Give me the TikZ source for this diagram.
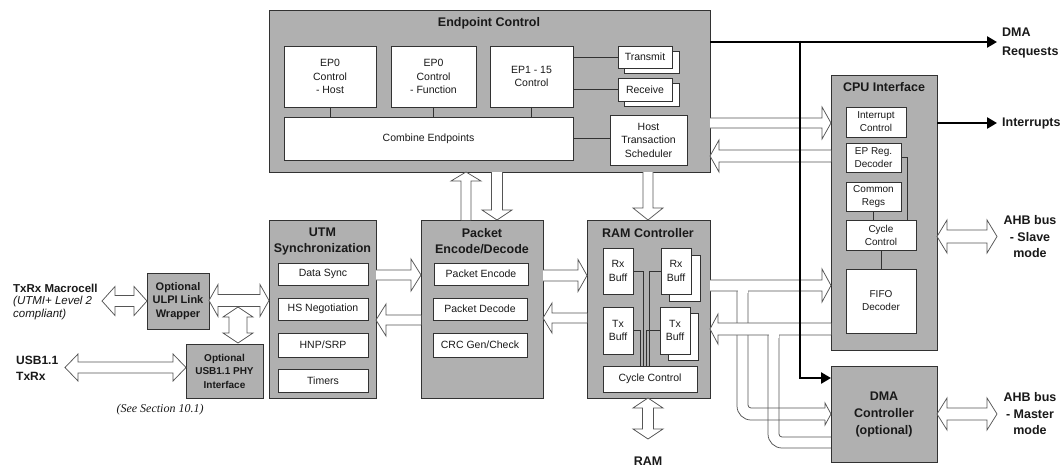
\documentclass[tikz,border=0pt]{standalone}
\usepackage{fontspec}
\setmainfont{Liberation Sans}
\newfontfamily\garafont{Liberation Serif}
\usetikzlibrary{arrows.meta}
\definecolor{boxgray}{RGB}{176,176,176}
\definecolor{edge}{RGB}{50,50,50}
\definecolor{arrowedge}{RGB}{85,85,85}
\definecolor{txt}{RGB}{25,25,25}
% box node from corner (x1,y1) to (x2,y2)
\newcommand{\bx}[7]{\pgfmathsetmacro\bxw{(#5)-(#3)}\pgfmathsetmacro\bxh{(#6)-(#4)}\pgfmathsetmacro\bxx{((#3)+(#5))/2}\pgfmathsetmacro\bxy{((#4)+(#6))/2}\node[#1,minimum width=\bxw pt,minimum height=\bxh pt] (#2) at (\bxx,\bxy) {#7};}
% hollow single arrows: tail, tip, position, shaft half, head half, head length
\newcommand{\sR}[6]{\filldraw[harrow] (#1,#3-#4) -- (#2-#6,#3-#4) -- (#2-#6,#3-#5) -- (#2,#3) -- (#2-#6,#3+#5) -- (#2-#6,#3+#4) -- (#1,#3+#4);}
\newcommand{\sL}[6]{\filldraw[harrow] (#1,#3-#4) -- (#2+#6,#3-#4) -- (#2+#6,#3-#5) -- (#2,#3) -- (#2+#6,#3+#5) -- (#2+#6,#3+#4) -- (#1,#3+#4);}
\newcommand{\sD}[6]{\filldraw[harrow] (#1-#4,#2) -- (#1-#4,#3-#6) -- (#1-#5,#3-#6) -- (#1,#3) -- (#1+#5,#3-#6) -- (#1+#4,#3-#6) -- (#1+#4,#2);}
\newcommand{\sU}[6]{\filldraw[harrow] (#1-#4,#2) -- (#1-#4,#3+#6) -- (#1-#5,#3+#6) -- (#1,#3) -- (#1+#5,#3+#6) -- (#1+#4,#3+#6) -- (#1+#4,#2);}
% hollow double arrows: horizontal (left tip, right tip, y) / vertical (x, top tip, bottom tip)
\newcommand{\dH}[6]{\filldraw[harrow] (#1,#3) -- (#1+#6,#3-#5) -- (#1+#6,#3-#4) -- (#2-#6,#3-#4) -- (#2-#6,#3-#5) -- (#2,#3) -- (#2-#6,#3+#5) -- (#2-#6,#3+#4) -- (#1+#6,#3+#4) -- (#1+#6,#3+#5) -- cycle;}
\newcommand{\dV}[6]{\filldraw[harrow] (#1,#2) -- (#1+#5,#2+#6) -- (#1+#4,#2+#6) -- (#1+#4,#3-#6) -- (#1+#5,#3-#6) -- (#1,#3) -- (#1-#5,#3-#6) -- (#1-#4,#3-#6) -- (#1-#4,#2+#6) -- (#1-#5,#2+#6) -- cycle;}
\begin{document}
\begin{tikzpicture}[x=1pt,y=-1pt,
  every node/.style={text=txt},
  cont/.style={draw=edge,fill=boxgray,line width=0.8pt,inner sep=0pt,outer sep=0pt,align=center},
  sub/.style={draw=edge,fill=white,line width=0.8pt,inner sep=0pt,outer sep=0pt,align=center,font=\fontsize{10.5}{13.5}\selectfont},
  subs/.style={sub,font=\fontsize{10}{13}\selectfont},
  ttl/.style={font=\bfseries\fontsize{12.5}{16}\selectfont,align=center,inner sep=0pt},
  lbl/.style={font=\bfseries\fontsize{12.5}{16.5}\selectfont,align=center,inner sep=0pt},
  harrow/.style={draw=arrowedge,fill=white,line width=0.75pt,line join=miter,miter limit=20},
  hline/.style={draw=arrowedge,line width=0.75pt},
  wire/.style={draw=edge,line width=0.7pt},
  blk/.style={line width=2.8pt,-{Triangle[length=10pt,width=11pt]}},
]
\fill[white] (0,0) rectangle (1064,468);
\useasboundingbox (0,0) rectangle (1064,468);

% ---------------- Endpoint Control ----------------
\bx{cont}{epc}{269}{10}{710}{172}{}
\node[ttl] (epct) at (489,23) {Endpoint Control};
\bx{sub}{ep0h}{284}{46}{376}{107}{EP0\\Control\\- Host}
\bx{sub}{ep0f}{391}{46}{476}{107}{EP0\\Control\\- Function}
\bx{sub}{ep1}{490}{46}{573}{107}{EP1 - 15\\Control}
\bx{sub}{comb}{284}{117}{573}{160}{Combine Endpoints}
\bx{sub}{txb}{624}{51}{679}{73}{}
\bx{sub}{tx}{618}{46}{672}{68}{Transmit}
\bx{sub}{rxb}{624}{83}{679}{106}{}
\bx{sub}{rx}{618}{78}{672}{101}{Receive}
\bx{sub}{hts}{610}{115}{687}{165}{Host\\Transaction\\Scheduler}
\draw[wire] (ep0h.south) -- (ep0h.south |- comb.north);
\draw[wire] (ep0f.south) -- (ep0f.south |- comb.north);
\draw[wire] (ep1.south) -- (ep1.south |- comb.north);
\draw[wire] (tx.west) -- (tx.west -| ep1.east);
\draw[wire] (rx.west) -- (rx.west -| ep1.east);
\draw[wire] (comb.east) -- (comb.east -| hts.west);

% ---------------- CPU Interface ----------------
\bx{cont}{cpu}{831}{75}{937}{350}{}
\node[ttl] (cput) at (884,87) {CPU Interface};
\bx{subs}{intc}{846}{107}{906}{137}{Interrupt\\Control}
\bx{subs}{epreg}{846}{143}{901}{172}{EP Reg.\\Decoder}
\bx{subs}{creg}{846}{182}{901}{211}{Common\\Regs}
\bx{subs}{ccyc}{846}{220}{916}{250}{Cycle\\Control}
\bx{subs}{fifo}{846}{269}{916}{333}{FIFO\\Decoder}
\draw[wire] (epreg.east) -- ++(6,0) coordinate (k1) -- (k1 |- ccyc.north);
\draw[wire] (creg.south) -- (creg.south |- ccyc.north);
\draw[wire] (ccyc.south) -- (ccyc.south |- fifo.north);

% ---------------- DMA Controller ----------------
\bx{cont,font=\bfseries\fontsize{12.5}{17}\selectfont}{dma}{831}{366}{937}{462}{DMA\\Controller\\(optional)}

% ---------------- UTM Synchronization ----------------
\bx{cont}{utm}{269}{220}{376}{398}{}
\node[ttl] (utmt) at (322.5,241) {UTM\\Synchronization};
\bx{sub}{dsync}{278}{263}{368}{285}{Data Sync}
\bx{sub}{hsn}{278}{298}{368}{320}{HS Negotiation}
\bx{sub}{hnp}{278}{333}{368}{357}{HNP/SRP}
\bx{sub}{tim}{278}{369}{368}{392}{Timers}

% ---------------- Packet Encode/Decode ----------------
\bx{cont}{pkt}{421}{220}{543}{398}{}
\node[ttl] (pktt) at (482,241) {Packet\\Encode/Decode};
\bx{sub}{penc}{434}{263}{528}{285}{Packet Encode}
\bx{sub}{pdec}{433}{298}{527}{320}{Packet Decode}
\bx{sub}{crc}{433}{333}{527}{357}{CRC Gen/Check}

% ---------------- RAM Controller ----------------
\bx{cont}{ram}{587}{220}{710}{398}{}
\node[ttl] (ramt) at (648,233) {RAM Controller};
\bx{sub}{rxl}{603}{248}{633}{294}{Rx\\Buff}
\bx{sub}{rxrb}{669}{255}{700}{301}{}
\bx{sub}{rxr}{661}{248}{691}{294}{Rx\\Buff}
\bx{sub}{txl}{603}{307}{633}{354}{Tx\\Buff}
\bx{sub}{txrb}{668}{313}{698}{360}{}
\bx{sub}{txr}{660}{307}{690}{354}{Tx\\Buff}
\bx{sub}{rcyc}{603}{366}{697}{392}{Cycle Control}
\draw[wire] (rxl.east) -- ++(10,0) coordinate (r1) -- (r1 |- rcyc.north);
\draw[wire] (txl.east) -- ++(7,0) coordinate (r2) -- (r2 |- rcyc.north);
\draw[wire] (rxr.west) -- ++(-12,0) coordinate (r3) -- (r3 |- rcyc.north);
\draw[wire] (txr.west) -- ++(-14,0) coordinate (r4) -- (r4 |- rcyc.north);

% ---------------- left side ----------------
\bx{cont,font=\bfseries\fontsize{11}{13.5}\selectfont}{ulpi}{147}{273}{209}{329}{Optional\\ULPI Link\\Wrapper}
\bx{cont,font=\bfseries\fontsize{10}{13.5}\selectfont}{phy}{186}{344}{263}{398}{Optional\\USB1.1 PHY\\Interface}
\node[anchor=west,inner sep=0pt,font=\bfseries\fontsize{11.5}{13}\selectfont] (macro) at (13,288) {TxRx Macrocell};
\node[anchor=west,inner sep=0pt,font=\itshape\fontsize{11.5}{13}\selectfont] (utmi1) at (13,301.5) {(UTMI+ Level 2};
\node[anchor=west,inner sep=0pt,font=\itshape\fontsize{11.5}{13}\selectfont] (utmi2) at (13,315) {compliant)};
\node[anchor=west,inner sep=0pt,align=left,font=\bfseries\fontsize{12}{16}\selectfont] (usb) at (16,368) {USB1.1\\TxRx};
\node[inner sep=0pt,font=\garafont\itshape\fontsize{12}{14}\selectfont] (see) at (160,410) {(See Section 10.1)};

% ---------------- hollow arrows ----------------
\dH{102}{147}{301}{5.5}{14.5}{13}
\dH{209}{269}{300.5}{6}{16}{9}
\dV{238}{307}{343}{9}{15}{10}
\dH{65}{186}{367.5}{5.5}{13.5}{13}
\sR{376}{421}{275}{5}{16}{10}
\sL{421}{376}{320}{5}{16}{10}
\sR{543}{587}{275.5}{5.5}{16}{9}
\sL{587}{543}{318}{5}{15}{9}
\sU{466}{220}{172}{5}{15}{9}
\sD{497}{172}{220}{5.5}{15}{10}
\sD{648}{172}{220}{5}{15}{12}
\dV{648}{398}{439}{5.5}{15}{10}
\sR{710}{831}{123}{5}{16}{9}
\sL{831}{710}{156}{6}{16}{9}
\dH{937}{997}{236.5}{6.5}{16.5}{10}
\dH{937}{997}{414}{6}{16}{10}

% RAM -> CPU with branch to DMA
\draw[hline,rounded corners=14pt] (737,291) -- (737,420) -- (825,420);
\draw[hline,line join=miter] (825,420) -- (825,425) -- (831,414) -- (825,403) -- (825,408);
\draw[hline,rounded corners=3pt] (825,408) -- (748,408) -- (748,291);
\sR{710}{831}{285.5}{5.5}{16.5}{9}
\fill[white] (737.5,288) rectangle (747.5,293);
% CPU -> RAM with branch from DMA
\sL{831}{710}{329}{6}{15}{8}
\draw[hline,rounded corners=14pt] (768,335) -- (768,448) -- (831,448);
\draw[hline,rounded corners=3pt] (831,437) -- (779,437) -- (779,335);
\fill[white] (768.5,333) rectangle (778.5,337.5);

% ---------------- solid black signals ----------------
\draw[blk] (710,42) -- (997,42);
\draw[blk] (800,40.6) -- (800,378) -- (831,378);
\draw[blk] (937,123) -- (997,123);

% ---------------- right labels ----------------
\node[anchor=west,inner sep=0pt,align=left,font=\bfseries\fontsize{12.5}{19}\selectfont] (dmareq) at (1002,42.5) {DMA\\Requests};
\node[anchor=west,inner sep=0pt,font=\bfseries\fontsize{12.5}{15}\selectfont] (intr) at (1002,123) {Interrupts};
\node[lbl] (ahbs) at (1030,237) {AHB bus\\- Slave\\mode};
\node[lbl] (ahbm) at (1030,414) {AHB bus\\- Master\\mode};
\node[ttl] (ramlbl) at (648,461) {RAM};
\end{tikzpicture}
\end{document}
